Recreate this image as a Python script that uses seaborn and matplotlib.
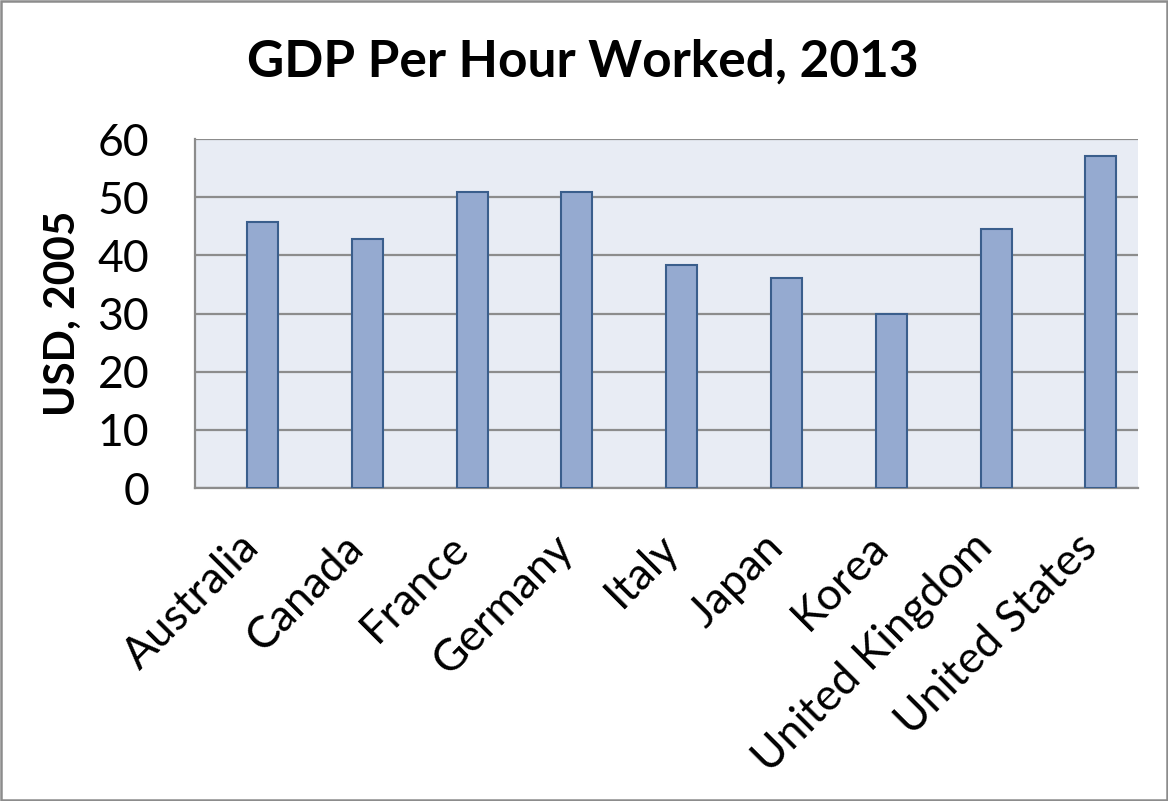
import matplotlib
matplotlib.use("Agg")
import matplotlib.pyplot as plt
import matplotlib.transforms as mtransforms
import seaborn as sns
import pandas as pd
from matplotlib.patches import Rectangle

countries = ["Australia", "Canada", "France", "Germany", "Italy", "Japan",
             "Korea", "United Kingdom", "United States"]
gdp_per_hour = [45.8, 42.8, 50.9, 50.9, 38.3, 36.1, 29.9, 44.5, 57.0]
y_ticks = [0, 10, 20, 30, 40, 50, 60]

title = "GDP Per Hour Worked, 2013"
y_label = "USD, 2005"

sns.set_theme(style="white")
plt.rcParams["font.family"] = ["Lato", "DejaVu Sans"]
plt.rcParams["text.color"] = "black"

df = pd.DataFrame({"country": countries, "value": gdp_per_hour})

fig = plt.figure(figsize=(11.68, 8.01), dpi=100)
ax = fig.add_axes([195 / 1168, 1 - 488 / 801, (1138 - 195) / 1168, (488 - 139) / 801])
ax.set_facecolor("#E8ECF4")

sns.barplot(data=df, x="country", y="value", ax=ax, color="#95AAD0",
            width=0.296, edgecolor="#3A5E8C", linewidth=1.5, saturation=1,
            zorder=3)

ax.set_ylim(0, 60)
ax.set_yticks(y_ticks)
ax.set_xlim(-0.645, 8.355)
ax.yaxis.grid(True, color="#8C8C8C", linewidth=1.6, zorder=1)
ax.set_axisbelow(True)

for side in ["top", "right"]:
    ax.spines[side].set_visible(False)
for side in ["left", "bottom"]:
    ax.spines[side].set_color("#8C8C8C")
    ax.spines[side].set_linewidth(1.6)

ax.tick_params(axis="y", length=0, pad=33, labelsize=32, labelcolor="black")
ax.tick_params(axis="x", length=0, pad=38, labelsize=32, labelcolor="black")
ax.set_xticks(range(len(countries)))
ax.set_xticklabels(countries, rotation=45, ha="right", va="center",
                   rotation_mode="anchor")
shift = mtransforms.ScaledTranslation(-10 / 100, 0, fig.dpi_scale_trans)
for lbl in ax.get_xticklabels():
    lbl.set_transform(lbl.get_transform() + shift)

ax.set_xlabel("")
ax.set_ylabel(y_label, fontsize=30.5, fontweight="bold", color="black")
ax.yaxis.set_label_coords((82 - 195) / 943, 0.5)

fig.text(583 / 1168, 1 - 62 / 801, title, ha="center", va="center",
         fontsize=37, fontweight="bold", color="black")

fig.patches.append(Rectangle((0.001, 0.001), 0.998, 0.998, transform=fig.transFigure,
                             fill=False, edgecolor="#8C8C8C", linewidth=1.8))

fig.savefig("out.png", dpi=100)
